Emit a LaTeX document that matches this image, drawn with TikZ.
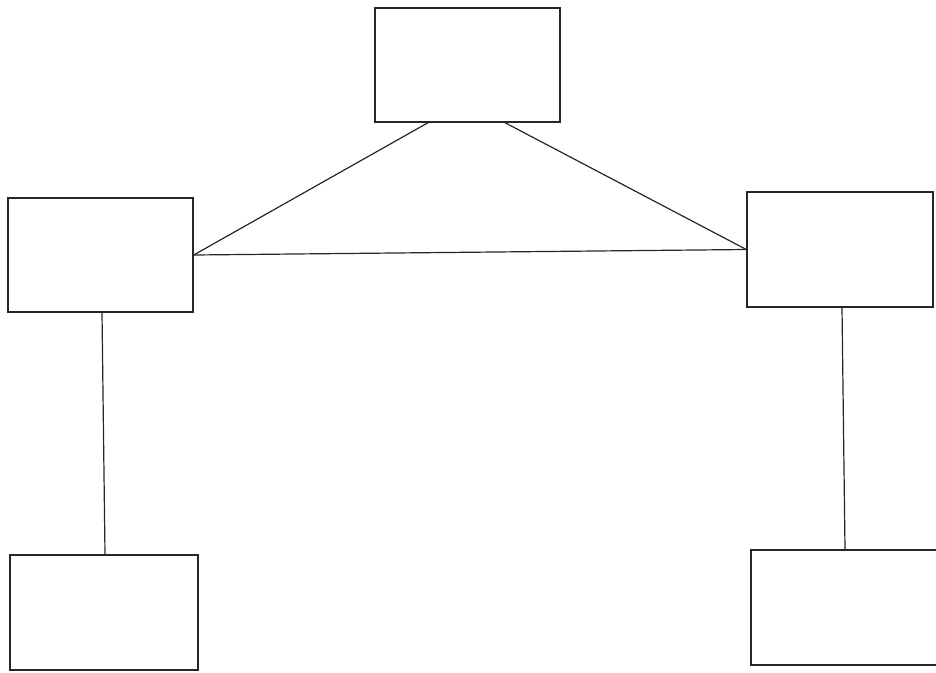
\documentclass[tikz,border=0pt]{standalone}
\begin{document}
\begin{tikzpicture}[x=1pt,y=-1pt,
  blk/.style={draw=black!85,line width=1.4pt,fill=white,inner sep=0pt,minimum width=185pt,minimum height=114pt},
  link/.style={draw=black!85,line width=1.2pt}]
\useasboundingbox (0,0) rectangle (936,672);
\node[blk] (top) at (467.5,65) {};
\node[blk] (left) at (100.5,255) {};
\node[blk,minimum width=186pt,minimum height=115pt] (right) at (840,249.5) {};
\node[blk,minimum width=188pt,minimum height=115pt] (bl) at (104,612.5) {};
\node[blk,minimum width=186pt,minimum height=115pt] (br) at (844,607.5) {};
\draw[link] ([xshift=-39.5pt]top.south) -- (left.east);
\draw[link] ([xshift=37.5pt]top.south) -- (right.west);
\draw[link] (left.east) -- (right.west);
\draw[link] ([xshift=1.5pt]left.south) -- ([xshift=1pt]bl.north);
\draw[link] ([xshift=2pt]right.south) -- ([xshift=1pt]br.north);
\end{tikzpicture}
\end{document}
